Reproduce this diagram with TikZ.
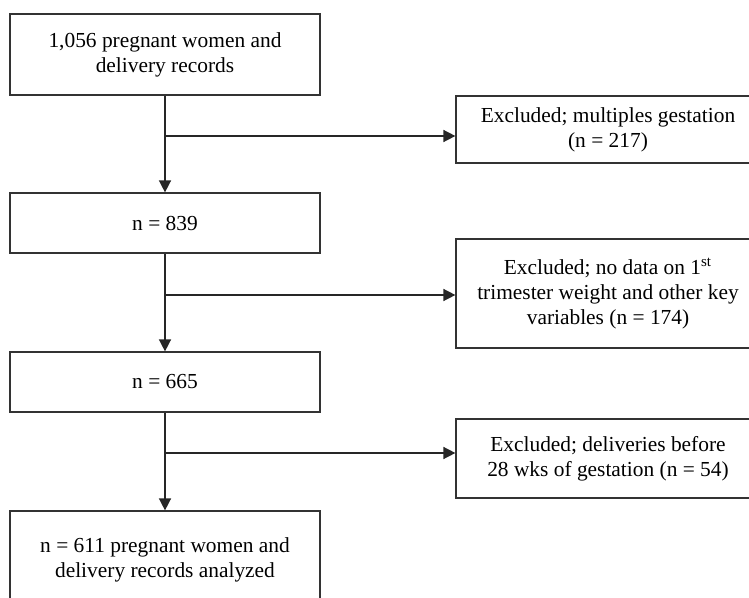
\documentclass[tikz,border=0pt]{standalone}
\usepackage{fontspec}
\setmainfont{Liberation Serif}
\usetikzlibrary{arrows.meta}

\tikzset{
  flowbox/.style={draw=black!80, line width=0.6pt, align=center, inner sep=0pt,
    font=\fontsize{10.7}{12.5}\selectfont},
  flowarrow/.style={draw=black!85, line width=0.75pt, -{Triangle[length=6pt,width=6pt]}}
}

\begin{document}
\begin{tikzpicture}[x=0.5pt,y=-0.5pt]
  \useasboundingbox (0,0) rectangle (749,598);
  \clip (0,0) rectangle (749,598);

  % main column
  \node[flowbox, minimum width=155pt, minimum height=40.5pt] (n1) at (165,54.5)
    {1,056 pregnant women and\\delivery records};
  \node[flowbox, minimum width=155pt, minimum height=30pt] (n2) at (165,223) {n = 839};
  \node[flowbox, minimum width=155pt, minimum height=30pt] (n3) at (165,382) {n = 665};
  \node[flowbox, minimum width=155pt, minimum height=49pt] (n4) at (165,560)
    {n = 611 pregnant women and\\delivery records analyzed};

  % exclusions
  \node[flowbox, minimum width=152pt, minimum height=33.5pt] (ex1) at (608,129.5)
    {Excluded; multiples gestation\\(n = 217)};
  \node[flowbox, minimum width=152pt, minimum height=54.5pt] (ex2) at (608,293.5)
    {Excluded; no data on 1\textsuperscript{st}\\trimester weight and other key\\variables (n = 174)};
  \node[flowbox, minimum width=152pt, minimum height=39.5pt] (ex3) at (608,458.5)
    {Excluded; deliveries before\\28 wks of gestation (n = 54)};

  % branch points
  \coordinate (b1) at (n1.south |- 0,136);
  \coordinate (b2) at (n2.south |- 0,295);
  \coordinate (b3) at (n3.south |- 0,453);

  \draw[flowarrow] (n1.south) -- (n2.north);
  \draw[flowarrow] (n2.south) -- (n3.north);
  \draw[flowarrow] (n3.south) -- (n4.north);

  \draw[flowarrow] (b1) -- (b1 -| ex1.west);
  \draw[flowarrow] (b2) -- (b2 -| ex2.west);
  \draw[flowarrow] (b3) -- (b3 -| ex3.west);
\end{tikzpicture}
\end{document}
